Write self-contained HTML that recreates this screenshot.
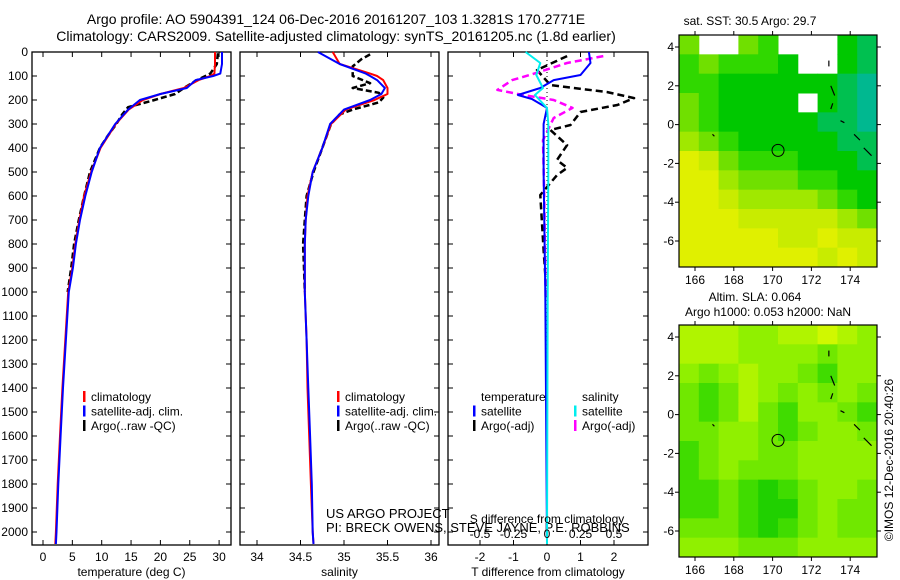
<!DOCTYPE html>
<html><head><meta charset="utf-8"><style>
body{margin:0;background:#fff;}
svg{display:block;font-family:"Liberation Sans",sans-serif;}
</style></head><body>
<svg id="c" width="900" height="580" xmlns="http://www.w3.org/2000/svg">
<text x="336" y="24" font-size="14" text-anchor="middle">Argo profile: AO 5904391_124 06-Dec-2016 20161207_103 1.3281S 170.2771E</text>
<text x="336" y="41" font-size="14" text-anchor="middle">Climatology: CARS2009. Satellite-adjusted climatology: synTS_20161205.nc (1.8d earlier)</text>
<text x="750" y="25" font-size="12" text-anchor="middle">sat. SST: 30.5 Argo: 29.7</text>
<text x="755" y="301" font-size="12" text-anchor="middle">Altim. SLA: 0.064</text>
<text x="768" y="316" font-size="12" text-anchor="middle">Argo h1000: 0.053 h2000: NaN</text>
<text transform="translate(893,460) rotate(-90)" font-size="12" text-anchor="middle">©IMOS 12-Dec-2016 20:40:26</text>
<text x="326" y="518" font-size="13">US ARGO PROJECT</text>
<text x="326" y="532" font-size="13">PI: BRECK OWENS, STEVE JAYNE, P.E. ROBBINS</text>
</svg>
<script>
// ---- data ----
const tDepth=[0,50,90,100,117,150,175,200,240,300,400,500,600,700,800,900,1000,1200,1400,1600,1800,2000,2050];
const tSat=[30.5,30.5,30.2,29,26,24.5,20,16.5,14.5,12.3,9.7,8.3,7.2,6.3,5.6,5.1,4.4,3.9,3.4,3.0,2.6,2.3,2.2];
const tClim=[29.3,29.3,29.2,28.5,26.5,24,20,17,14.6,12.4,9.8,8.2,7.0,6.2,5.5,5.0,4.3,3.8,3.3,2.9,2.5,2.2,2.1];
const tArgoDepth=[5,50,90,120,150,175,200,230,260,300,350,400,500,600,700,800,900,1000];
const tArgo=[29.8,29.6,28.5,26,24,22.5,19,14.5,13.5,12.5,11,9.7,8,7,6.1,5.3,4.8,4.2];
const sSat=[34.7,34.95,35.25,35.3,35.38,35.47,35.43,35.3,35.0,34.84,34.75,34.64,34.59,34.56,34.55,34.55,34.55,34.57,34.59,34.61,34.63,34.64,34.65];
const sClim=[34.87,34.95,35.3,35.38,35.45,35.5,35.5,35.35,35.02,34.85,34.75,34.64,34.58,34.56,34.55,34.55,34.55,34.57,34.58,34.6,34.62,34.64,34.65];
const sArgoDepth=[10,30,60,80,100,130,150,170,190,210,240,260,300,400,500,600,700,800,900,1000];
const sArgo=[35.3,35.2,35.1,35.1,35.1,35.3,35.1,35.4,35.45,35.4,35.1,34.95,34.85,34.75,34.65,34.57,34.55,34.53,34.54,34.55];
const dTSatDepth=[0,46,96,117,150,179,196,233,300,500,1000,2050];
const dTSat=[1.25,1.3,1.0,0.2,-0.2,-0.87,-0.45,0,-0.1,-0.1,-0.05,0];
const dSSatDepth=[0,46,96,150,179,233,300,500,1000,2050];
const dSSat=[-0.16,-0.05,-0.08,-0.03,-0.09,0,0.01,0.01,0.005,0];
const dTArgoDepth=[17,75,138,167,192,221,250,304,325,388,450,483,513,596,825,1033];
const dTArgo=[0.6,-0.3,0.1,1.8,2.6,2.1,1.0,0.7,0.1,0.6,0.3,0.6,0.3,-0.2,-0.1,0];
const dSArgoDepth=[17,46,96,117,158,179,200,233,275,367,617,1033];
const dSArgo=[0.42,0.15,-0.13,-0.26,-0.37,-0.18,0.05,0.19,0.05,-0.03,-0.02,-0.01];
const depthTicks=[0,100,200,300,400,500,600,700,800,900,1000,1100,1200,1300,1400,1500,1600,1700,1800,1900,2000];
const tempTicks=[0,5,10,15,20,25,30];
const salTicks=[34,34.5,35,35.5,36];
const dTTicks=[-2,-1,0,1,2];
const dSTicks=[-0.5,-0.25,0,0.25,0.5];
const lonTicks=[166,168,170,172,174];
const latTicks=[4,2,0,-2,-4,-6];
const sstGrid=[
[4,-1,-1,4,3,-1,-1,-1,2,1],
[3,4,3,3,3,2,-1,-1,2,1],
[3,3,2,2,2,2,2,2,1,0],
[4,3,2,2,2,2,-1,2,1,0],
[4,3,2,2,2,2,2,1,1,0],
[5,4,3,2,2,2,2,2,1,1],
[7,6,4,3,3,3,2,2,2,1],
[7,7,5,4,4,4,3,3,2,2],
[7,7,6,5,5,5,5,4,3,2],
[7,7,7,6,6,6,6,6,5,4],
[7,7,7,7,7,6,6,7,6,6],
[7,7,7,7,7,7,7,6,7,6]];
const slaGrid=[
[6,6,6,5,5,6,6,7,6,5],
[6,6,6,5,5,5,5,4,5,5],
[5,4,5,6,5,5,4,3,5,5],
[4,3,4,6,5,4,5,4,5,4],
[4,3,4,6,4,3,5,5,4,3],
[4,4,5,5,4,3,4,5,5,4],
[3,4,5,5,4,4,5,5,5,5],
[3,4,5,4,4,4,5,5,5,5],
[3,3,4,3,2,3,4,5,5,4],
[3,3,4,3,2,2,4,5,4,4],
[4,4,4,3,2,3,4,5,4,4],
[5,5,5,4,4,4,5,5,5,5]];
const argoLon=170.28, argoLat=-1.33;

const svg=document.getElementById('c');
const NS='http://www.w3.org/2000/svg';
function mk(tag,attrs,parent){const e=document.createElementNS(NS,tag);for(const k in attrs)e.setAttribute(k,attrs[k]);(parent||svg).appendChild(e);return e;}
const Y0=52,Y1=545;
const yD=d=>Y0+d*0.24;

function panel(x0,x1,name,xs,ticks,fmt,title){
  const g=mk('g',{});
  
  
  const r=mk('rect',{x:x0,y:Y0,width:x1-x0,height:Y1-Y0,fill:'none',stroke:'#000','stroke-width':1.3},g);
  
  
  depthTicks.forEach(d=>{const y=yD(d);
    mk('line',{x1:x0,x2:x0+5,y1:y,y2:y,stroke:'#000'},g);
    mk('line',{x1:x1-5,x2:x1,y1:y,y2:y,stroke:'#000'},g);
  });
  ticks.forEach(v=>{const x=xs(v);
    mk('line',{x1:x,x2:x,y1:Y1,y2:Y1-5,stroke:'#000'},g);
    mk('line',{x1:x,x2:x,y1:Y0,y2:Y0+5,stroke:'#000'},g);
    const t=mk('text',{x:x,y:Y1+16,'font-size':12,'text-anchor':'middle'},g);t.textContent=fmt(v);
    
    
  });
  const tt=mk('text',{x:(x0+x1)/2,y:576,'font-size':12,'text-anchor':'middle'},g);tt.textContent=title;
  
  
  return g;
}
function line2(g,xs,depths,vals,color,dash,w,name){
  const pts=depths.map((d,i)=>xs(vals[i]).toFixed(1)+','+yD(d).toFixed(1)).join(' ');
  const p=mk('polyline',{points:pts,fill:'none',stroke:color,'stroke-width':w,'stroke-dasharray':dash||'none','stroke-linejoin':'round'},g);
  
  
}
function legend(g,x,y,items){
  items.forEach((it,i)=>{
    mk('rect',{x:x,y:y+i*14.5-6,width:2.5,height:11,fill:it[1]},g);
    const t=mk('text',{x:x+8,y:y+i*14.5+4,'font-size':12},g);t.textContent=it[0];
    
    
  });
}
// depth labels
depthTicks.forEach(d=>{const t=mk('text',{x:28,y:yD(d)+4,'font-size':12,'text-anchor':'end'});t.textContent=d;
  
  
});
// Temperature panel
const xT=v=>43+v*5.87;
const g1=panel(32,231,'temperature-panel',xT,tempTicks,v=>v,'temperature (deg C)');
line2(g1,xT,tArgoDepth,tArgo,'#000','6,3',2.5,'argo-temperature-line');
line2(g1,xT,tDepth,tClim,'#f00',null,2,'clim-temperature-line');
line2(g1,xT,tDepth,tSat,'#00f',null,2,'sat-temperature-line');
legend(g1,83,397,[['climatology','#f00'],['satellite-adj. clim.','#00f'],['Argo(..raw -QC)','#000']]);
// Salinity panel
const xS=v=>257+(v-34)*87;
const g2=panel(240,439,'salinity-panel',xS,salTicks,v=>v,'salinity');
line2(g2,xS,sArgoDepth,sArgo,'#000','6,3',2.5,'argo-salinity-line');
line2(g2,xS,tDepth,sClim,'#f00',null,2,'clim-salinity-line');
line2(g2,xS,tDepth,sSat,'#00f',null,2,'sat-salinity-line');
legend(g2,337,397,[['climatology','#f00'],['satellite-adj. clim.','#00f'],['Argo(..raw -QC)','#000']]);
// Difference panel
const xDT=v=>547+v*33.5;
const xDS=v=>547+v*134;
const g3=panel(448,648,'difference-panel',xDT,dTTicks,v=>v,'T difference from climatology');
mk('line',{x1:547,x2:547,y1:Y0,y2:Y1,stroke:'#000','stroke-dasharray':'1,3'},g3);
line2(g3,xDT,dTArgoDepth,dTArgo,'#000','7,4',2.5,'argo-t-diff-line');
line2(g3,xDS,dSArgoDepth,dSArgo,'#f0f','7,4',2.5,'argo-s-diff-line');
line2(g3,xDT,dTSatDepth,dTSat,'#00f',null,2,'sat-t-diff-line');
line2(g3,xDS,dSSatDepth,dSSat,'#0ee',null,2,'sat-s-diff-line');
dSTicks.forEach(v=>{const t=mk('text',{x:xDS(v),y:538,'font-size':12,'text-anchor':'middle'},g3);t.textContent=v;
  
  });
const st=mk('text',{x:547,y:523,'font-size':12,'text-anchor':'middle'},g3);st.textContent='S difference from climatology';


const th=mk('text',{x:481,y:401,'font-size':12},g3);th.textContent='temperature';


const sh=mk('text',{x:582,y:401,'font-size':12},g3);sh.textContent='salinity';


legend(g3,473,411.5,[['satellite','#00f'],['Argo(-adj)','#000']]);
legend(g3,574,411.5,[['satellite','#0ee'],['Argo(-adj)','#f0f']]);
// Maps
const pal={0:'#00b890',1:'#00c050',2:'#00c800',3:'#30d800',4:'#70e000',5:'#a0e800',6:'#c8ec00',7:'#e0f000'};
const slaPal={2:'#20d000',3:'#40dc00',4:'#70e800',5:'#90f000',6:'#b0f400',7:'#d0f800'};
function map(top,grid,colors,name){
  const L=679,R=877,T=top,B=top+232;
  const xL=lon=>695+(lon-166)*19.4;
  const yL=lat=>top+12+(4-lat)*19.4;
  const g=mk('g',{});
  
  
  const rows=grid.length,cols=grid[0].length,cw=(R-L)/cols,ch=(B-T)/rows;
  grid.forEach((row,i)=>row.forEach((v,j)=>{
    if(v<0)return;
    const c=mk('rect',{x:L+j*cw,y:T+i*ch,width:cw+0.5,height:ch+0.5,fill:colors[v]},g);
    
    
  }));
  mk('rect',{x:L,y:T,width:R-L,height:B-T,fill:'none',stroke:'#000','stroke-width':1.2},g);
  lonTicks.forEach(v=>{const x=xL(v);mk('line',{x1:x,x2:x,y1:B,y2:B+4,stroke:'#000'},g);mk('line',{x1:x,x2:x,y1:T,y2:T-4,stroke:'#000'},g);
    const t=mk('text',{x:x,y:B+17,'font-size':12,'text-anchor':'middle'},g);t.textContent=v;
    
    });
  latTicks.forEach(v=>{const y=yL(v);mk('line',{x1:L-4,x2:L,y1:y,y2:y,stroke:'#000'},g);mk('line',{x1:R,x2:R+4,y1:y,y2:y,stroke:'#000'},g);
    const t=mk('text',{x:L-5,y:y+4,'font-size':12,'text-anchor':'end'},g);t.textContent=v;
    
    });
  [[172.9,3.3,172.9,3.0],[173,2,173.2,1.5],[173.1,1.1,173,0.8],[173.5,0.2,173.7,0.1],[174.2,-0.5,174.5,-0.8],[174.7,-1.2,175.1,-1.6],[166.9,-0.5,167,-0.6]].forEach(s=>{
    mk('line',{x1:xL(s[0]),y1:yL(s[1]),x2:xL(s[2]),y2:yL(s[3]),stroke:'#000','stroke-width':1.2},g);});
  const c=mk('circle',{cx:xL(argoLon),cy:yL(argoLat),r:6,fill:'none',stroke:'#000','stroke-width':1},g);
  
  
}
map(35,sstGrid,pal,'sst-map');
map(325,slaGrid,slaPal,'sla-map');
</script>
</body></html>
